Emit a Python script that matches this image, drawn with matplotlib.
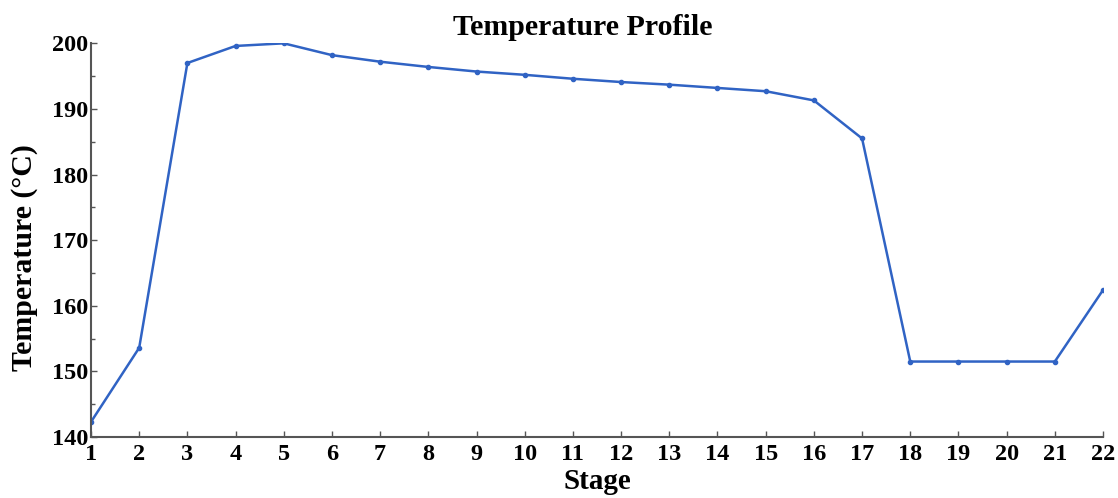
import matplotlib
matplotlib.use("Agg")
import matplotlib.pyplot as plt
from matplotlib.ticker import MultipleLocator

# datos
stages = list(range(1, 23))
temperature = [142.3, 153.6, 197.0, 199.6, 200.0, 198.2, 197.2, 196.4, 195.7, 195.2, 194.6,
               194.1, 193.7, 193.2, 192.7, 191.3, 185.5, 151.5, 151.5, 151.5, 151.5, 162.4]

plt.rcParams['font.family'] = ['Liberation Serif', 'DejaVu Serif']
plt.rcParams['font.weight'] = 'bold'

fig = plt.figure(figsize=(11.18, 4.98), dpi=100)
ax = fig.add_axes([0.0814, 0.1225, 0.9052, 0.7905])

ax.plot(stages, temperature, color="#3063c4", linewidth=1.8,
        marker="o", markersize=3)

ax.set_xlim(1, 22)
ax.set_ylim(140, 200)
ax.set_xticks(stages)
ax.yaxis.set_major_locator(MultipleLocator(10))
ax.yaxis.set_minor_locator(MultipleLocator(5))

for side in ["top", "right"]:
    ax.spines[side].set_visible(False)
for side in ["left", "bottom"]:
    ax.spines[side].set_color("#555555")
    ax.spines[side].set_linewidth(1.5)

ax.tick_params(which="both", direction="in", color="#555555", labelsize=17.5)
ax.tick_params(which="major", length=4, width=1)
ax.tick_params(which="minor", length=3, width=1)
ax.tick_params(axis="x", pad=5)
ax.tick_params(axis="y", pad=2)
for lab in ax.get_xticklabels() + ax.get_yticklabels():
    lab.set_fontweight("bold")

ax.set_title("Temperature Profile", fontsize=21.5, fontweight="bold", pad=6, x=0.486)
ax.set_xlabel("Stage", fontsize=21, fontweight="bold", labelpad=2)
ax.set_ylabel("Temperature (°C)", fontsize=21.5, fontweight="bold")
ax.yaxis.set_label_coords(-0.052, 0.455)

fig.savefig("out.png", dpi=100)
